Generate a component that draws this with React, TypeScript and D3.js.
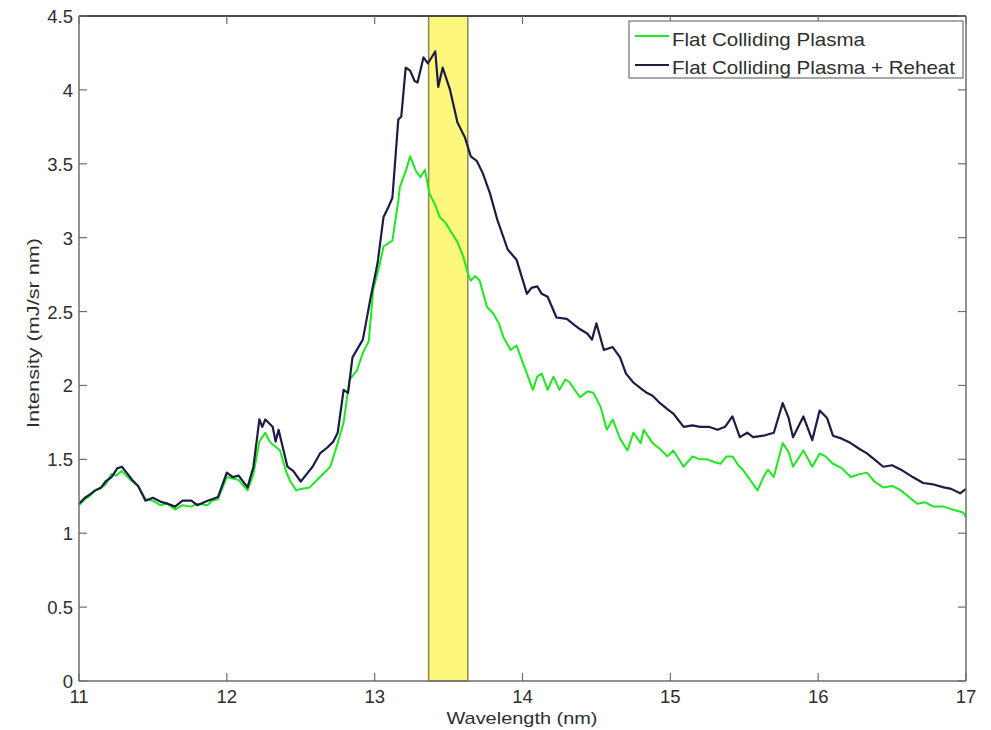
import React from "react";
import * as d3 from "d3";

const xTicks = [11, 12, 13, 14, 15, 16, 17];
const yTicks = [0, 0.5, 1, 1.5, 2, 2.5, 3, 3.5, 4, 4.5];
const bandRange = [13.365, 13.63];
const seriesNames = ["Flat Colliding Plasma", "Flat Colliding Plasma + Reheat"];

const flatSeries: [number, number][] = [
  [11.0, 1.19], [11.04, 1.23], [11.07, 1.25], [11.11, 1.29], [11.14, 1.3], [11.18, 1.33], [11.22, 1.4], [11.25, 1.39], [11.29, 1.42],
  [11.33, 1.38], [11.36, 1.35], [11.4, 1.32], [11.45, 1.23], [11.5, 1.22], [11.55, 1.19], [11.6, 1.2], [11.65, 1.16], [11.7, 1.19],
  [11.76, 1.18], [11.8, 1.2], [11.87, 1.19], [11.9, 1.22], [11.94, 1.23], [12.0, 1.38], [12.04, 1.37], [12.08, 1.36], [12.14, 1.29],
  [12.18, 1.4], [12.22, 1.62], [12.26, 1.68], [12.29, 1.62], [12.31, 1.6], [12.36, 1.56], [12.4, 1.42], [12.43, 1.35], [12.47, 1.29],
  [12.5, 1.3], [12.56, 1.31], [12.63, 1.38], [12.7, 1.45], [12.75, 1.61], [12.79, 1.75], [12.83, 2.04], [12.88, 2.1], [12.92, 2.22],
  [12.96, 2.3], [12.99, 2.65], [13.03, 2.8], [13.06, 2.94], [13.12, 2.98], [13.16, 3.25], [13.17, 3.34], [13.21, 3.45], [13.24, 3.55],
  [13.28, 3.45], [13.31, 3.41], [13.34, 3.46], [13.37, 3.3], [13.41, 3.22], [13.44, 3.14], [13.48, 3.1], [13.51, 3.05], [13.56, 2.97],
  [13.6, 2.87], [13.63, 2.76], [13.65, 2.71], [13.68, 2.74], [13.71, 2.71], [13.76, 2.53], [13.8, 2.49], [13.84, 2.42], [13.87, 2.33],
  [13.92, 2.24], [13.96, 2.27], [14.0, 2.16], [14.03, 2.08], [14.07, 1.97], [14.1, 2.06], [14.13, 2.08], [14.17, 1.97], [14.21, 2.06],
  [14.25, 1.97], [14.29, 2.04], [14.32, 2.02], [14.36, 1.96], [14.39, 1.92], [14.44, 1.96], [14.48, 1.95], [14.53, 1.85], [14.57, 1.7],
  [14.61, 1.77], [14.66, 1.64], [14.71, 1.56], [14.75, 1.68], [14.8, 1.61], [14.82, 1.7], [14.88, 1.61], [14.93, 1.57], [14.98, 1.52],
  [15.02, 1.56], [15.09, 1.45], [15.15, 1.52], [15.2, 1.5], [15.25, 1.5], [15.3, 1.48], [15.34, 1.47], [15.38, 1.52], [15.42, 1.52],
  [15.46, 1.46], [15.49, 1.43], [15.54, 1.36], [15.59, 1.29], [15.63, 1.38], [15.66, 1.43], [15.7, 1.38], [15.76, 1.61], [15.8, 1.55],
  [15.83, 1.45], [15.9, 1.56], [15.96, 1.45], [16.01, 1.54], [16.05, 1.52], [16.1, 1.47], [16.16, 1.44], [16.22, 1.38], [16.28, 1.4],
  [16.33, 1.41], [16.38, 1.35], [16.44, 1.31], [16.5, 1.32], [16.56, 1.29], [16.62, 1.24], [16.67, 1.2], [16.72, 1.21], [16.78, 1.18],
  [16.85, 1.18], [16.91, 1.16], [16.98, 1.14], [17.0, 1.11],
];

const reheatSeries: [number, number][] = [
  [11.0, 1.2], [11.04, 1.24], [11.07, 1.26], [11.11, 1.29], [11.15, 1.31], [11.18, 1.35], [11.22, 1.38], [11.26, 1.44], [11.29, 1.45],
  [11.33, 1.4], [11.36, 1.36], [11.4, 1.32], [11.45, 1.22], [11.5, 1.24], [11.56, 1.21], [11.6, 1.2], [11.65, 1.18], [11.7, 1.22],
  [11.76, 1.22], [11.8, 1.19], [11.87, 1.22], [11.9, 1.23], [11.94, 1.245], [12.0, 1.41], [12.04, 1.38], [12.08, 1.39], [12.14, 1.31],
  [12.18, 1.45], [12.22, 1.77], [12.24, 1.72], [12.26, 1.77], [12.31, 1.72], [12.33, 1.62], [12.35, 1.7], [12.41, 1.45], [12.45, 1.42],
  [12.5, 1.35], [12.54, 1.4], [12.58, 1.45], [12.63, 1.54], [12.68, 1.58], [12.72, 1.62], [12.75, 1.68], [12.79, 1.97], [12.82, 1.95],
  [12.85, 2.19], [12.92, 2.31], [12.97, 2.58], [13.02, 2.83], [13.06, 3.14], [13.09, 3.2], [13.12, 3.27], [13.16, 3.8], [13.18, 3.82],
  [13.21, 4.15], [13.24, 4.13], [13.27, 4.06], [13.29, 4.05], [13.33, 4.22], [13.36, 4.18], [13.41, 4.26], [13.43, 4.02], [13.46, 4.15],
  [13.51, 4.0], [13.56, 3.78], [13.61, 3.68], [13.65, 3.55], [13.69, 3.52], [13.73, 3.44], [13.78, 3.3], [13.83, 3.12], [13.9, 2.92],
  [13.96, 2.85], [14.03, 2.62], [14.06, 2.66], [14.1, 2.67], [14.13, 2.62], [14.17, 2.6], [14.23, 2.46], [14.3, 2.45], [14.35, 2.41],
  [14.39, 2.38], [14.44, 2.35], [14.47, 2.31], [14.5, 2.42], [14.55, 2.24], [14.61, 2.26], [14.66, 2.19], [14.7, 2.08], [14.75, 2.02],
  [14.8, 1.98], [14.84, 1.95], [14.88, 1.93], [14.93, 1.88], [14.98, 1.84], [15.02, 1.81], [15.09, 1.72], [15.15, 1.73], [15.2, 1.72],
  [15.26, 1.72], [15.32, 1.7], [15.37, 1.72], [15.42, 1.79], [15.47, 1.65], [15.52, 1.68], [15.56, 1.65], [15.63, 1.66], [15.7, 1.68],
  [15.76, 1.88], [15.8, 1.78], [15.83, 1.65], [15.9, 1.79], [15.96, 1.63], [16.01, 1.83], [16.06, 1.78], [16.1, 1.66], [16.16, 1.64],
  [16.22, 1.61], [16.28, 1.57], [16.33, 1.54], [16.38, 1.5], [16.44, 1.45], [16.5, 1.46], [16.56, 1.43], [16.64, 1.38], [16.71, 1.34],
  [16.78, 1.33], [16.85, 1.31], [16.9, 1.3], [16.96, 1.27], [17.0, 1.3],
];

const W = 991;
const H = 730;
const M = { left: 79, right: 966, top: 16, bottom: 681 };

export default function App() {
  const x = d3.scaleLinear().domain([11, 17]).range([M.left, M.right]);
  const y = d3.scaleLinear().domain([0, 4.5]).range([M.bottom, M.top]);
  const line = d3
    .line<[number, number]>()
    .x((d) => x(d[0]))
    .y((d) => y(d[1]));

  const axisColor = "#6e6e6e";
  const textColor = "#2e2e2e";
  const font = "'Liberation Sans', Arial, sans-serif";
  const tickLen = 8;

  return (
    <svg
      width={W}
      height={H}
      style={{ position: "absolute", left: 0, top: 0, background: "#fff" }}
      fontFamily={font}
    >
      <rect x={0} y={0} width={W} height={H} fill="#fff" />
      {/* highlight band */}
      <rect
        x={x(bandRange[0])}
        y={y(4.5)}
        width={x(bandRange[1]) - x(bandRange[0])}
        height={y(0) - y(4.5)}
        fill="#fdf77e"
        stroke="#8c8a4a"
        strokeWidth={1.5}
      />
      {/* series */}
      <path d={line(flatSeries) || ""} fill="none" stroke="#1ee81e" strokeWidth={2} strokeLinejoin="round" />
      <path d={line(reheatSeries) || ""} fill="none" stroke="#1c1c44" strokeWidth={2.2} strokeLinejoin="round" />

      {/* axes box */}
      <line x1={M.left} x2={M.right} y1={M.bottom} y2={M.bottom} stroke={axisColor} strokeWidth={1.5} />
      <line x1={M.left} x2={M.right} y1={M.top} y2={M.top} stroke="#4a4a4a" strokeWidth={2} />
      <line x1={M.left} x2={M.left} y1={M.top} y2={M.bottom} stroke={axisColor} strokeWidth={1.5} />
      <line x1={M.right} x2={M.right} y1={M.top} y2={M.bottom} stroke={axisColor} strokeWidth={1.5} />

      {/* x ticks */}
      {xTicks.map((t) => (
        <g key={"x" + t}>
          <line x1={x(t)} x2={x(t)} y1={M.bottom} y2={M.bottom - tickLen} stroke={axisColor} strokeWidth={1.2} />
          <line x1={x(t)} x2={x(t)} y1={M.top} y2={M.top + tickLen} stroke={axisColor} strokeWidth={1.2} />
          <text x={x(t)} y={M.bottom + 22} textAnchor="middle" fontSize={18.5} fill={textColor}>
            {t}
          </text>
        </g>
      ))}
      {/* y ticks */}
      {yTicks.map((t) => (
        <g key={"y" + t}>
          <line x1={M.left} x2={M.left + tickLen} y1={y(t)} y2={y(t)} stroke={axisColor} strokeWidth={1.2} />
          <line x1={M.right} x2={M.right - tickLen} y1={y(t)} y2={y(t)} stroke={axisColor} strokeWidth={1.2} />
          <text x={73} y={y(t) + 7} textAnchor="end" fontSize={18.5} fill={textColor}>
            {t}
          </text>
        </g>
      ))}

      {/* axis labels */}
      <text
        x={522}
        y={724}
        textAnchor="middle"
        fontSize={17}
        fill={textColor}
        textLength={151}
        lengthAdjust="spacingAndGlyphs"
      >
        Wavelength (nm)
      </text>
      <text
        transform={`translate(39, 333) rotate(-90)`}
        textAnchor="middle"
        fontSize={17}
        fill={textColor}
        textLength={190}
        lengthAdjust="spacingAndGlyphs"
      >
        Intensity (mJ/sr nm)
      </text>

      {/* legend */}
      <g>
        <rect x={629} y={21} width={334} height={57} fill="#fff" stroke="#555" strokeWidth={1} />
        <line x1={635} x2={669} y1={36} y2={36} stroke="#1ee81e" strokeWidth={2} />
        <text x={672} y={46} fontSize={18.5} fill={textColor} textLength={193} lengthAdjust="spacingAndGlyphs">
          {seriesNames[0]}
        </text>
        <line x1={635} x2={669} y1={65} y2={65} stroke="#1c1c44" strokeWidth={2} />
        <text x={672} y={74} fontSize={18.5} fill={textColor} textLength={283} lengthAdjust="spacingAndGlyphs">
          {seriesNames[1]}
        </text>
      </g>
    </svg>
  );
}
